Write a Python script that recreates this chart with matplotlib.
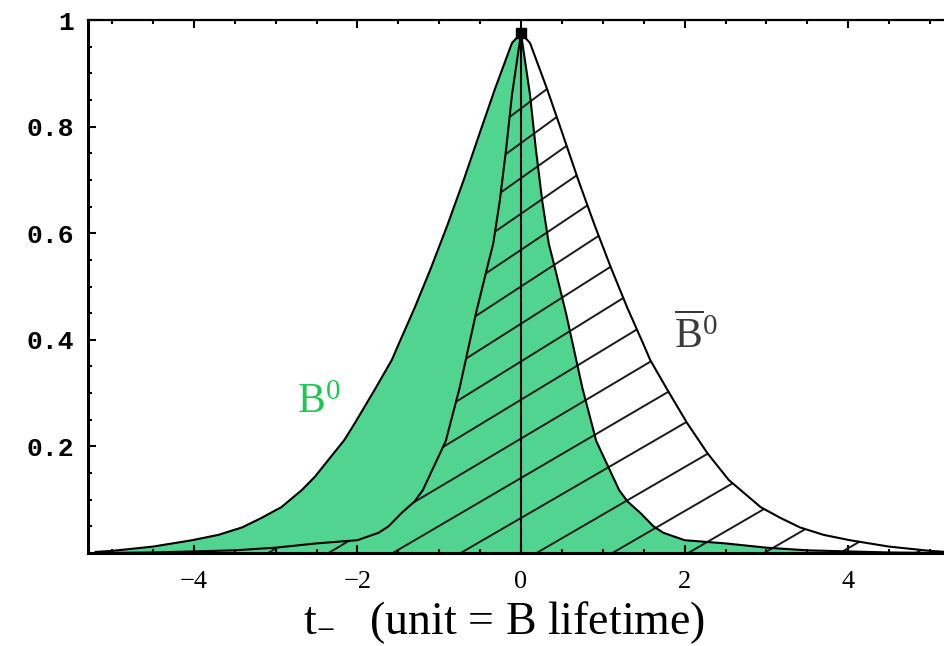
import numpy as np
import matplotlib
matplotlib.use("Agg")
import matplotlib.pyplot as plt
from matplotlib.patches import Polygon
from matplotlib.ticker import MultipleLocator

plt.rcParams['mathtext.fontset'] = 'custom'
plt.rcParams['mathtext.rm'] = 'Liberation Serif'
plt.rcParams['mathtext.it'] = 'Liberation Serif:italic'

# ---- data ----
# B0-bar (hatched) curve
t_bbar = [-5.2, -4.5, -4.0, -3.5, -3.0, -2.5, -2.0, -1.74, -1.62, -1.46, -1.3, -1.2,
          -0.92, -0.75, -0.55, -0.39, -0.34, -0.26, -0.18, -0.11, 0.0,
          0.11, 0.32, 0.5, 0.7, 0.9, 1.1, 1.3, 1.49, 1.58, 1.79, 2.03, 2.28, 2.54,
          2.93, 3.17, 3.41, 3.7, 4.02, 4.5, 5.0, 5.2]
y_bbar = [0.0, 0.001, 0.003, 0.005, 0.010, 0.018, 0.024, 0.038, 0.050, 0.075, 0.097, 0.118,
          0.210, 0.310, 0.450, 0.550, 0.580, 0.660, 0.760, 0.860, 0.975,
          0.957, 0.870, 0.790, 0.700, 0.615, 0.535, 0.460, 0.394, 0.362, 0.306, 0.244,
          0.187, 0.137, 0.086, 0.066, 0.048, 0.034, 0.024, 0.012, 0.004, 0.002]
# B0 (green) curve
t_b0 = [-5.2, -5.0, -4.5, -4.02, -3.7, -3.41, -3.17, -2.93, -2.68, -2.52, -2.16, -2.03, -1.79,
        -1.58, -1.49, -1.3, -1.1, -0.9, -0.7, -0.5, -0.32, -0.11, 0.0,
        0.11, 0.18, 0.26, 0.34, 0.39, 0.55, 0.75, 0.92, 1.2, 1.3, 1.46, 1.62, 1.74,
        2.0, 2.5, 3.0, 3.5, 4.0, 4.5, 5.2]
y_b0 = [0.002, 0.004, 0.012, 0.024, 0.034, 0.048, 0.066, 0.086, 0.118, 0.143, 0.212, 0.244, 0.306,
        0.362, 0.394, 0.460, 0.535, 0.615, 0.700, 0.790, 0.870, 0.957, 0.975,
        0.860, 0.760, 0.660, 0.580, 0.550, 0.450, 0.310, 0.210, 0.118, 0.097, 0.075, 0.050, 0.038,
        0.024, 0.018, 0.010, 0.005, 0.003, 0.001, 0.0]

x_ticks = [-4, -2, 0, 2, 4]
x_tick_labels = ['\u22124', '\u22122', '0', '2', '4']
y_ticks = [0.2, 0.4, 0.6, 0.8, 1.0]
y_tick_labels = ['0.2', '0.4', '0.6', '0.8', '1']

GREEN = '#50d490'

W, H = 944, 646
fig = plt.figure(figsize=(W / 100, H / 100), dpi=100)
ax_l, ax_r, ax_b, ax_t = 88, 944, 93, 626
ax = fig.add_axes([ax_l / W, ax_b / H, (ax_r - ax_l) / W, (ax_t - ax_b) / H])
ppx = 81.8
x0 = 521
xlim = ((ax_l - x0) / ppx, (ax_r - x0) / ppx)
ax.set_xlim(*xlim)
ax.set_ylim(0, 1)
ppy = ax_t - ax_b

# green B0 area
ax.fill_between(t_b0, 0, y_b0, facecolor=GREEN, edgecolor='none', zorder=1)

# hatch region for B0-bar
poly = Polygon(np.column_stack([np.r_[t_bbar, t_bbar[-1], t_bbar[0]],
                                np.r_[y_bbar, 0, 0]]),
               closed=True, transform=ax.transData, facecolor='none', edgecolor='none')
ax.add_patch(poly)

hs = []
h = 35.0
while h < 460:
    hs.append(h)
    h += 40 - 6 * (h - 35) / 415
for k in range(1, 8):
    hs.append(35.0 - 44 * k)
tt = np.array(xlim)
for h in hs:
    mpx = 0.58 + 0.17 * (max(0.0, (h - 35) / 410)) ** 1.5
    c = h / ppy
    m = mpx * ppx / ppy
    ln, = ax.plot(tt, c + m * tt, color='#1a1a1a', lw=1.4, zorder=2, solid_capstyle='butt')
    ln.set_clip_path(poly)

# curves
ax.plot(t_b0, y_b0, color='black', lw=1.5, zorder=3)
ax.plot(t_bbar, y_bbar, color='black', lw=1.5, zorder=3)
ipk = int(np.argmax(y_bbar))
ax.plot([t_bbar[ipk], t_bbar[ipk]], [0, y_bbar[ipk]], color='black', lw=1.5, zorder=3)
ax.plot([t_bbar[ipk]], [y_bbar[ipk]], marker='s', ms=7, color='black', zorder=4)

# labels on the curves
ax.text(-2.74, 0.262, r'$\mathrm{B}^{0}$', color='#1cc853', fontsize=30, zorder=5,
        ha='left', va='baseline')
ax.text(1.87, 0.385, r'$\overline{\mathrm{B}}^{0}$', color='#3a3a3a', fontsize=30, zorder=5,
        ha='left', va='baseline')

# spines & ticks
ax.spines['right'].set_visible(False)
for s in ['left', 'bottom']:
    ax.spines[s].set_linewidth(2.2)
ax.spines['top'].set_linewidth(1.6)
ax.set_xticks(x_ticks)
ax.set_xticklabels(x_tick_labels, fontfamily='Liberation Serif', fontsize=19)
ax.set_yticks(y_ticks)
ax.set_yticklabels(y_tick_labels, fontfamily='Liberation Mono', fontsize=19, fontweight='bold')
ax.xaxis.set_minor_locator(MultipleLocator(0.5))
ax.yaxis.set_minor_locator(MultipleLocator(0.05))
ax.tick_params(which='both', direction='in', top=True, right=False, width=1.5)
ax.tick_params(which='major', length=6)
ax.tick_params(which='minor', length=3)
ax.tick_params(axis='x', which='major', pad=13)
ax.tick_params(axis='y', which='major', pad=10)

fig.text(504 / W, (H - 634) / H, r'$\mathrm{t}_{-}$   (unit = B lifetime)',
         fontfamily='Liberation Serif', fontsize=33, ha='center', va='baseline')

fig.savefig('out.png', dpi=100)
